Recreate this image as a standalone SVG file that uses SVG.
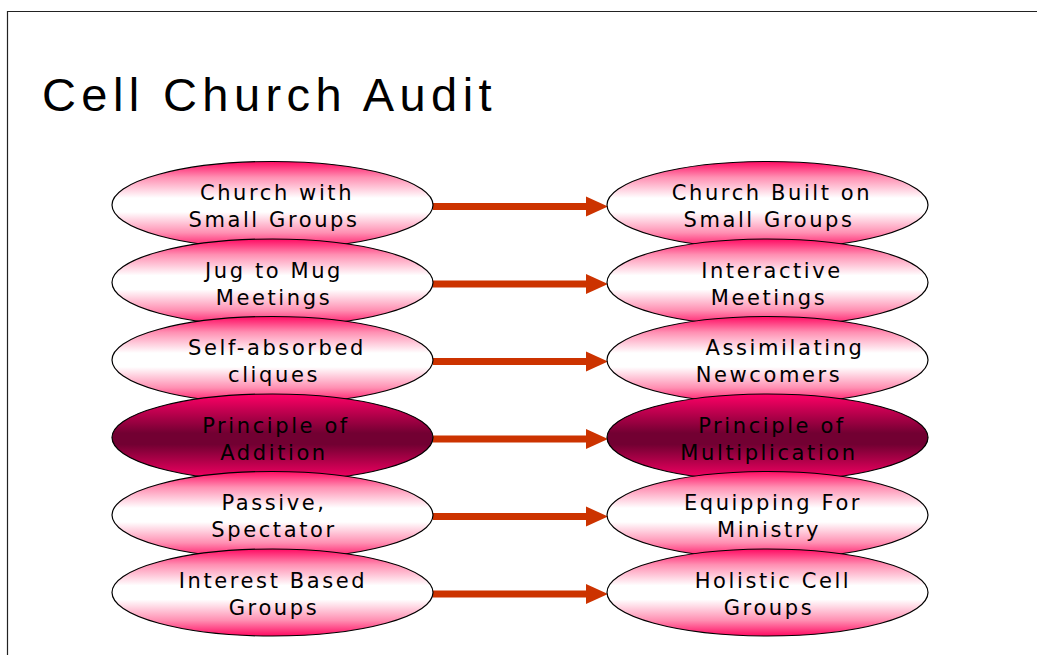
<svg xmlns="http://www.w3.org/2000/svg" width="1037" height="655" viewBox="0 0 1037 655">
  <defs>
    <linearGradient id="pinkFill" x1="0" y1="0" x2="0" y2="1">
      <stop offset="0" stop-color="#ff0a62"/>
      <stop offset="0.18" stop-color="#ff8fb2"/>
      <stop offset="0.42" stop-color="#ffffff"/>
      <stop offset="0.58" stop-color="#ffffff"/>
      <stop offset="0.82" stop-color="#ff8fb2"/>
      <stop offset="1" stop-color="#ff0a62"/>
    </linearGradient>
    <linearGradient id="darkFill" x1="0" y1="0" x2="0" y2="1">
      <stop offset="0" stop-color="#ff0066"/>
      <stop offset="0.45" stop-color="#720032"/>
      <stop offset="0.58" stop-color="#720032"/>
      <stop offset="1" stop-color="#ff0066"/>
    </linearGradient>
  </defs>
  <style>
    .frame { fill: none; stroke: #222; stroke-width: 1.2; }
    .title { font-family: "Liberation Sans", Arial, sans-serif; font-size: 47px; letter-spacing: 5.4px; fill: #000; }
    .oval { stroke: #000; stroke-width: 1.2; }
    .light { fill: url(#pinkFill); }
    .dark { fill: url(#darkFill); }
    .lbl { font-family: "DejaVu Sans", sans-serif; font-size: 21px; letter-spacing: 2.6px; fill: #000; text-anchor: middle; }
    .shaft { stroke: #cc3300; stroke-width: 7; fill: none; }
    .head { fill: #cc3300; }
  </style>

  <rect width="1037" height="655" fill="#ffffff"/>
  <path class="frame" d="M7.5 655 V11.5 H1037"/>
  <text class="title" x="42" y="111">Cell Church Audit</text>

  <!-- connectors: left column to right column -->
  <g id="connectors">
    <g transform="translate(0,205)"><line class="shaft" x1="433" y1="1.5" x2="590" y2="1.5"/><polygon class="head" points="586,-8.5 608,1.5 586,11.5"/></g>
    <g transform="translate(0,282.5)"><line class="shaft" x1="433" y1="1.5" x2="590" y2="1.5"/><polygon class="head" points="586,-8.5 608,1.5 586,11.5"/></g>
    <g transform="translate(0,360)"><line class="shaft" x1="433" y1="1.5" x2="590" y2="1.5"/><polygon class="head" points="586,-8.5 608,1.5 586,11.5"/></g>
    <g transform="translate(0,437.5)"><line class="shaft" x1="433" y1="1.5" x2="590" y2="1.5"/><polygon class="head" points="586,-8.5 608,1.5 586,11.5"/></g>
    <g transform="translate(0,515)"><line class="shaft" x1="433" y1="1.5" x2="590" y2="1.5"/><polygon class="head" points="586,-8.5 608,1.5 586,11.5"/></g>
    <g transform="translate(0,592.5)"><line class="shaft" x1="433" y1="1.5" x2="590" y2="1.5"/><polygon class="head" points="586,-8.5 608,1.5 586,11.5"/></g>
  </g>

  <!-- left column -->
  <g id="left-1"><ellipse class="oval light" cx="272.5" cy="205" rx="160.5" ry="43.5"/>
    <text class="lbl" x="277" y="200">Church with</text><text class="lbl" x="274" y="227">Small Groups</text></g>
  <g id="left-2"><ellipse class="oval light" cx="272.5" cy="282.5" rx="160.5" ry="43.5"/>
    <text class="lbl" x="274" y="277.5">Jug to Mug</text><text class="lbl" x="274" y="304.5">Meetings</text></g>
  <g id="left-3"><ellipse class="oval light" cx="272.5" cy="360" rx="160.5" ry="43.5"/>
    <text class="lbl" x="277" y="355">Self-absorbed</text><text class="lbl" x="274" y="382">cliques</text></g>
  <g id="left-4"><ellipse class="oval dark" cx="272.5" cy="437.5" rx="160.5" ry="43.5"/>
    <text class="lbl" x="276" y="432.5">Principle of</text><text class="lbl" x="274" y="459.5">Addition</text></g>
  <g id="left-5"><ellipse class="oval light" cx="272.5" cy="515" rx="160.5" ry="43.5"/>
    <text class="lbl" x="274" y="510">Passive,</text><text class="lbl" x="274" y="537">Spectator</text></g>
  <g id="left-6"><ellipse class="oval light" cx="272.5" cy="592.5" rx="160.5" ry="43.5"/>
    <text class="lbl" x="273" y="587.5">Interest Based</text><text class="lbl" x="274" y="614.5">Groups</text></g>

  <!-- right column -->
  <g id="right-1"><ellipse class="oval light" cx="767.5" cy="205" rx="160.5" ry="43.5"/>
    <text class="lbl" x="772" y="200">Church Built on</text><text class="lbl" x="769" y="227">Small Groups</text></g>
  <g id="right-2"><ellipse class="oval light" cx="767.5" cy="282.5" rx="160.5" ry="43.5"/>
    <text class="lbl" x="772" y="277.5">Interactive</text><text class="lbl" x="769" y="304.5">Meetings</text></g>
  <g id="right-3"><ellipse class="oval light" cx="767.5" cy="360" rx="160.5" ry="43.5"/>
    <text class="lbl" x="785" y="355">Assimilating</text><text class="lbl" x="769" y="382">Newcomers</text></g>
  <g id="right-4"><ellipse class="oval dark" cx="767.5" cy="437.5" rx="160.5" ry="43.5"/>
    <text class="lbl" x="772" y="432.5">Principle of</text><text class="lbl" x="769" y="459.5">Multiplication</text></g>
  <g id="right-5"><ellipse class="oval light" cx="767.5" cy="515" rx="160.5" ry="43.5"/>
    <text class="lbl" x="773" y="510">Equipping For</text><text class="lbl" x="769" y="537">Ministry</text></g>
  <g id="right-6"><ellipse class="oval light" cx="767.5" cy="592.5" rx="160.5" ry="43.5"/>
    <text class="lbl" x="773" y="587.5">Holistic Cell</text><text class="lbl" x="769" y="614.5">Groups</text></g>
</svg>
